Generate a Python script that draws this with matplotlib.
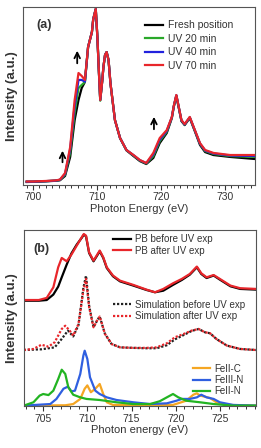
import numpy as np
import matplotlib
matplotlib.use("Agg")
import matplotlib.pyplot as plt
from matplotlib.ticker import MultipleLocator

plt.rcParams['font.family'] = ['Liberation Sans', 'DejaVu Sans']

# ---- panel (a): Fe L-edge, UV exposure series ----
e_a = [699, 700, 702, 703.5, 704.2, 705.0, 705.8, 706.5, 707.1, 707.6, 708.1, 708.6,
       709.2, 709.4, 709.8, 710.05, 710.3, 710.5, 710.8, 711.0, 711.25, 711.5, 711.8, 712.1,
       712.8, 713.6, 714.6, 715.7, 716.7, 717.7, 718.8, 719.8, 720.9, 721.7, 722.0, 722.4,
       722.8, 723.2, 723.7, 724.5, 725.3, 726.1, 726.9, 728.2, 730.8, 734.7]
fresh = [0.000, 0.001, 0.004, 0.007, 0.010, 0.035, 0.145, 0.358, 0.474, 0.543, 0.578, 0.780,
         0.867, 0.94, 1.0, 0.84, 0.63, 0.474, 0.58, 0.665, 0.734, 0.751, 0.705, 0.57,
         0.358, 0.254, 0.183, 0.150, 0.121, 0.104, 0.139, 0.225, 0.283, 0.370, 0.435, 0.497,
         0.425, 0.352, 0.329, 0.370, 0.293, 0.214, 0.173, 0.156, 0.145, 0.133]
uv20 = [0.002, 0.002, 0.005, 0.008, 0.012, 0.042, 0.17, 0.40, 0.543, 0.561, 0.578, 0.780,
        0.867, 0.94, 1.0, 0.84, 0.63, 0.470, 0.58, 0.665, 0.734, 0.751, 0.705, 0.57,
        0.358, 0.254, 0.184, 0.153, 0.124, 0.107, 0.150, 0.236, 0.29, 0.373, 0.437, 0.500,
        0.428, 0.355, 0.332, 0.373, 0.297, 0.220, 0.179, 0.162, 0.150, 0.145]
uv40 = [0.002, 0.002, 0.005, 0.008, 0.013, 0.047, 0.19, 0.44, 0.590, 0.590, 0.580, 0.780,
        0.867, 0.94, 1.0, 0.84, 0.63, 0.474, 0.58, 0.665, 0.734, 0.751, 0.705, 0.57,
        0.358, 0.254, 0.185, 0.155, 0.126, 0.109, 0.160, 0.245, 0.295, 0.375, 0.438, 0.502,
        0.429, 0.356, 0.333, 0.374, 0.298, 0.222, 0.182, 0.165, 0.153, 0.150]
uv70 = [0.003, 0.003, 0.006, 0.009, 0.014, 0.052, 0.202, 0.474, 0.630, 0.613, 0.590, 0.780,
        0.867, 0.94, 1.0, 0.84, 0.63, 0.474, 0.58, 0.665, 0.734, 0.751, 0.705, 0.57,
        0.358, 0.254, 0.185, 0.156, 0.127, 0.110, 0.168, 0.254, 0.30, 0.376, 0.44, 0.503,
        0.43, 0.358, 0.335, 0.376, 0.30, 0.225, 0.185, 0.168, 0.156, 0.156]

# arrows (x, y_base, y_tip)
arrows_a = [(704.6, 0.098, 0.197), (706.9, 0.67, 0.775), (718.9, 0.289, 0.393)]

# ---- panel (b): experiment, simulation, components ----
e_pb = [702.8, 704.5, 705.4, 706.15, 706.7, 707.1, 707.66, 708.2, 708.8, 709.36, 709.6,
        709.85, 710.2, 710.7, 711.05, 711.4, 711.8, 712.2, 712.9, 713.7, 715.2, 716.7,
        717.66, 718.6, 719.7, 720.7, 721.6, 722.4, 722.9, 723.5, 724.3, 725.0, 726.2,
        727.3, 729.1]
pb_before = [0.598, 0.598, 0.602, 0.633, 0.678, 0.731, 0.803, 0.867, 0.917, 0.955, 0.973,
             0.964, 0.869, 0.822, 0.850, 0.879, 0.841, 0.784, 0.737, 0.708, 0.684, 0.659,
             0.646, 0.655, 0.688, 0.716, 0.746, 0.788, 0.750, 0.727, 0.741, 0.718, 0.680,
             0.665, 0.661]
pb_after = [0.602, 0.602, 0.614, 0.674, 0.788, 0.841, 0.822, 0.860, 0.911, 0.958, 0.977,
            0.968, 0.873, 0.826, 0.854, 0.883, 0.845, 0.788, 0.741, 0.712, 0.688, 0.661,
            0.646, 0.665, 0.697, 0.722, 0.750, 0.792, 0.754, 0.731, 0.744, 0.722, 0.684,
            0.669, 0.665]

e_sim_after = [702.8, 703.9, 704.8, 705.6, 706.3, 707.1, 707.5, 708.0, 708.4, 709.0, 709.55,
               709.85, 710.2, 710.7, 711.1, 711.4, 712.0, 712.75, 713.7, 715.2, 716.7, 717.85,
               719.0, 719.9, 720.9, 721.8, 722.6, 723.3, 723.9, 724.6, 725.8, 727.3, 729.1]
sim_after = [0.318, 0.324, 0.348, 0.337, 0.362, 0.4375, 0.456, 0.428, 0.400, 0.466, 0.655,
             0.722, 0.561, 0.447, 0.485, 0.508, 0.409, 0.352, 0.333, 0.330, 0.330, 0.333,
             0.356, 0.390, 0.409, 0.428, 0.4375, 0.419, 0.413, 0.381, 0.343, 0.324, 0.318]
e_sim_before = [702.8, 704.8, 706.3, 707.1, 707.8, 708.4, 709.0, 709.55, 709.85, 710.2, 710.7,
                711.1, 711.4, 712.0, 712.75, 713.7, 715.2, 716.7, 717.85, 719.0, 719.9, 720.9,
                721.8, 722.6, 723.3, 723.9, 724.6, 725.8, 727.3, 729.1]
sim_before = [0.318, 0.322, 0.333, 0.381, 0.428, 0.395, 0.460, 0.670, 0.740, 0.570, 0.447,
              0.485, 0.508, 0.409, 0.352, 0.333, 0.330, 0.328, 0.328, 0.345, 0.378, 0.403,
              0.426, 0.4375, 0.419, 0.413, 0.381, 0.343, 0.324, 0.318]

e_fe2c = [702.8, 707.5, 708.4, 709.2, 709.7, 710.0, 710.4, 710.9, 711.4, 711.8, 712.2, 712.9,
          719.7, 721.2, 722.0, 722.4, 722.75, 723.3, 723.9, 724.6, 725.8, 729.1]
fe2c = [0.002, 0.004, 0.011, 0.040, 0.098, 0.117, 0.078, 0.098, 0.125, 0.068, 0.021, 0.006,
        0.006, 0.030, 0.064, 0.072, 0.059, 0.053, 0.045, 0.021, 0.006, 0.002]
e_fe3n = [702.8, 705.8, 706.5, 707.3, 707.8, 708.2, 708.6, 709.2, 709.55, 709.7, 710.0, 710.3,
          710.9, 711.4, 712.2, 713.3, 715.2, 717.1, 719.0, 720.1, 720.7, 721.6, 722.4, 722.9,
          723.5, 724.3, 725.0, 726.5, 729.1]
fe3n = [0.002, 0.011, 0.040, 0.098, 0.110, 0.083, 0.087, 0.182, 0.286, 0.314, 0.267, 0.163,
        0.087, 0.068, 0.049, 0.034, 0.021, 0.011, 0.015, 0.030, 0.040, 0.040, 0.049, 0.064,
        0.049, 0.040, 0.021, 0.006, 0.002]
e_fe2n = [702.8, 703.9, 704.6, 705.0, 705.6, 706.15, 706.7, 707.1, 707.5, 707.85, 708.4, 709.2,
          709.9, 711.4, 713.3, 715.2, 717.1, 718.2, 719.0, 719.7, 720.3, 721.2, 722.75, 724.3,
          726.5, 729.1]
fe2n = [0.002, 0.021, 0.059, 0.068, 0.062, 0.087, 0.153, 0.206, 0.182, 0.106, 0.064, 0.049,
        0.040, 0.034, 0.021, 0.011, 0.011, 0.027, 0.049, 0.068, 0.049, 0.030, 0.021, 0.011,
        0.002, 0.002]

RED = '#e8262b'
GREEN = '#2aa82a'
BLUE = '#2222dd'
BLUE2 = '#2f5fe0'
ORANGE = '#f5a623'
GREEN2 = '#22b422'
TXT = '#333333'

fig = plt.figure(figsize=(2.61, 4.48), dpi=100)
ax1 = fig.add_axes([0.090, 0.5877, 0.887, 0.3967])
ax2 = fig.add_axes([0.092, 0.0938, 0.889, 0.3929])

lw = 1.6
ax1.plot(e_a, fresh, color='black', lw=lw, label='Fresh position')
ax1.plot(e_a, uv20, color=GREEN, lw=lw, label='UV 20 min')
ax1.plot(e_a, uv40, color=BLUE, lw=lw, label='UV 40 min')
ax1.plot(e_a, uv70, color=RED, lw=lw, label='UV 70 min')
for x, y0, y1 in arrows_a:
    ax1.annotate('', xy=(x, y1), xytext=(x, y0),
                 arrowprops=dict(arrowstyle='->', color='black', lw=1.3))
ax1.set_xlim(698.5, 734.7)
ax1.set_ylim(-0.0156, 1.0116)
ax1.xaxis.set_major_locator(MultipleLocator(10))
ax1.xaxis.set_minor_locator(MultipleLocator(1))
ax1.text(0.09, 0.899, '(a)', transform=ax1.transAxes, ha='center', va='center',
         fontsize=9, fontweight='bold', color=TXT)
ax1.legend(loc='upper left', bbox_to_anchor=(0.525, 0.925), frameon=False, fontsize=7.5,
           handlelength=1.7, handletextpad=0.5, labelspacing=0.33, borderpad=0,
           borderaxespad=0, labelcolor=TXT)
ax1.set_xlabel('Photon Energy (eV)', fontsize=8, color=TXT, labelpad=1)

ax2.plot(e_pb, pb_before, color='black', lw=lw, label='PB before UV exp')
ax2.plot(e_pb, pb_after, color=RED, lw=lw, label='PB after UV exp')
s1, = ax2.plot(e_sim_before, sim_before, color='#222222', lw=lw, ls=(0, (1, 0.8)),
               label='Simulation before UV exp')
s2, = ax2.plot(e_sim_after, sim_after, color=RED, lw=lw, ls=(0, (1, 0.8)),
               label='Simulation after UV exp')
c1, = ax2.plot(e_fe2c, fe2c, color=ORANGE, lw=lw, label='FeII-C')
c2, = ax2.plot(e_fe3n, fe3n, color=BLUE2, lw=lw, label='FeIII-N')
c3, = ax2.plot(e_fe2n, fe2n, color=GREEN2, lw=lw, label='FeII-N')
ax2.set_xlim(702.83, 729.1)
ax2.set_ylim(0, 1)
ax2.xaxis.set_major_locator(MultipleLocator(5))
ax2.xaxis.set_minor_locator(MultipleLocator(1))
ax2.text(0.075, 0.892, '(b)', transform=ax2.transAxes, ha='center', va='center',
         fontsize=9, fontweight='bold', color=TXT)
lines = ax2.get_lines()
kw = dict(frameon=False, fontsize=7, handlelength=1.8, handletextpad=0.4,
          labelspacing=0.15, borderpad=0, borderaxespad=0, labelcolor=TXT)
l1 = ax2.legend(handles=lines[:2], loc='upper left', bbox_to_anchor=(0.384, 0.975), **kw)
ax2.add_artist(l1)
l2 = ax2.legend(handles=[s1, s2], loc='upper left', bbox_to_anchor=(0.384, 0.604), **kw)
ax2.add_artist(l2)
ax2.legend(handles=[c1, c2, c3], loc='upper left', bbox_to_anchor=(0.728, 0.241), **kw)
ax2.set_xlabel('Photon energy (eV)', fontsize=8, color=TXT, labelpad=1)

for ax in (ax1, ax2):
    ax.set_yticks([])
    ax.set_ylabel('Intensity (a.u.)', fontsize=9.5, fontweight='bold', color=TXT, labelpad=4)
    ax.tick_params(axis='x', which='major', length=3.5, width=0.8, labelsize=7.5,
                   colors=TXT, pad=2)
    ax.tick_params(axis='x', which='minor', length=2, width=0.7, colors=TXT)
    for sp in ax.spines.values():
        sp.set_linewidth(0.8)
        sp.set_color('#555555')

fig.savefig('out.png', dpi=100)
